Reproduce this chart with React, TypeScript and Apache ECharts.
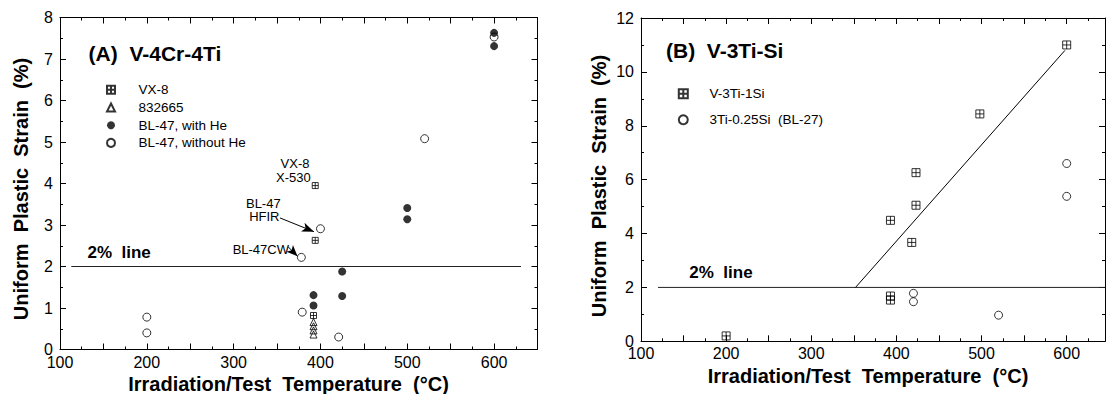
import React, { useEffect, useRef } from "react";
import * as echarts from "echarts";

// ---------- data ----------
// Panel A: V-4Cr-4Ti
const vx8 = [[394, 3.95], [394, 2.63], [392, 0.82]];
const alloy832665 = [[392, 0.66], [392, 0.56], [392, 0.46], [392, 0.36]];
const bl47WithHe = [[392, 1.31], [392, 1.06], [425, 1.88], [425, 1.29], [500, 3.41], [500, 3.14], [600, 7.63], [600, 7.31]];
const bl47WithoutHe = [[200, 0.78], [200, 0.4], [378, 2.22], [400, 2.91], [379, 0.9], [421, 0.3], [520, 5.08], [600, 7.53]];
const twoPctLineA = [[113, 2], [631, 2]];
const arrowHFIR = [[353.4, 3.17], [392.5, 2.84]];
const arrowCW = [[363, 2.47], [373.5, 2.25]];

// Panel B: V-3Ti-Si
const v3ti1si = [[200, 0.2], [393, 1.68], [393, 1.53], [393, 4.49], [418, 3.67], [423, 5.05], [423, 6.26], [498, 8.44], [600, 11]];
const bl27 = [[420, 1.78], [420, 1.47], [520, 0.97], [600, 6.6], [600, 5.38]];
const twoPctLineB = [[120, 2], [645, 2]];
const trendLineB = [[352, 2], [598, 10.8]];

// axes
const xRangeA = [100, 650];
const xRangeB = [100, 645];
const yRangeA = [0, 8];
const yRangeB = [0, 12];
const xLabelStep = 100;

const legendA = ["VX-8", "832665", "BL-47, with He", "BL-47, without He"];
const legendB = ["V-3Ti-1Si", "3Ti-0.25Si  (BL-27)"];

const FONT = "Liberation Sans, Arial, Helvetica, sans-serif";
const BOXPLUS = "path://M0,0L10,0L10,10L0,10Z M5,0L5,10 M0,5L10,5";

function xAxisDef(grid: number, range: number[], pos: "bottom" | "top", labels: boolean, margin: number) {
  return {
    gridIndex: grid,
    type: "value",
    min: range[0],
    max: range[1],
    interval: 50,
    position: pos,
    axisLine: { show: true, onZero: false, lineStyle: { color: "#000", width: 1 } },
    axisTick: { show: true, inside: true, length: 6, lineStyle: { color: "#000", width: 1 } },
    minorTick: { show: true, splitNumber: 2, length: 3, lineStyle: { color: "#000", width: 1 } },
    splitLine: { show: false },
    minorSplitLine: { show: false },
    axisLabel: {
      show: labels,
      margin,
      fontSize: 16,
      fontFamily: FONT,
      color: "#000",
      formatter: (v: number) => (v % xLabelStep === 0 ? String(v) : ""),
    },
  };
}

function yAxisDef(grid: number, range: number[], interval: number, pos: "left" | "right", labels: boolean) {
  return {
    gridIndex: grid,
    type: "value",
    min: range[0],
    max: range[1],
    interval,
    position: pos,
    axisLine: { show: true, onZero: false, lineStyle: { color: "#000", width: 1 } },
    axisTick: { show: true, inside: true, length: 6, lineStyle: { color: "#000", width: 1 } },
    minorTick: { show: true, splitNumber: 2, length: 3, lineStyle: { color: "#000", width: 1 } },
    splitLine: { show: false },
    minorSplitLine: { show: false },
    axisLabel: { show: labels, margin: 7, fontSize: 16, fontFamily: FONT, color: "#000" },
  };
}

const openStyle = { color: "transparent", borderColor: "#000", borderWidth: 1 };

export default function App() {
  const ref = useRef<HTMLDivElement>(null);
  useEffect(() => {
    if (!ref.current) return;
    const chart = echarts.init(ref.current, null, { renderer: "svg" });
    const txt = (text: string, x: number, y: number, size: number, bold: boolean, align = "left", rot = 0) => ({
      type: "text",
      x,
      y,
      rotation: rot,
      style: {
        text,
        fill: "#000",
        font: `${bold ? "bold " : ""}${size}px ${FONT}`,
        align,
        verticalAlign: "middle",
      },
    });
    const option: any = {
      animation: false,
      backgroundColor: "#fff",
      grid: [
        { left: 60, top: 17.5, width: 477.5, height: 332 },
        { left: 641, top: 18, width: 470, height: 323.3 },
      ],
      xAxis: [
        xAxisDef(0, xRangeA, "bottom", true, 5),
        xAxisDef(0, xRangeA, "top", false, 5),
        xAxisDef(1, xRangeB, "bottom", true, 4),
        xAxisDef(1, xRangeB, "top", false, 4),
      ],
      yAxis: [
        yAxisDef(0, yRangeA, 1, "left", true),
        yAxisDef(0, yRangeA, 1, "right", false),
        yAxisDef(1, yRangeB, 2, "left", true),
        yAxisDef(1, yRangeB, 2, "right", false),
      ],
      legend: [
        {
          data: legendA,
          orient: "vertical",
          left: 106,
          top: 82.8,
          padding: 0,
          itemWidth: 8,
          itemHeight: 8,
          itemGap: 3.7,
          selectedMode: false,
          textStyle: { fontSize: 13.5, fontFamily: FONT, color: "#000", lineHeight: 13, padding: [0, 0, 0, 18.5] },
        },
        {
          data: legendB,
          orient: "vertical",
          left: 677.8,
          top: 86.8,
          padding: 0,
          itemWidth: 9,
          itemHeight: 9,
          itemGap: 12,
          selectedMode: false,
          textStyle: { fontSize: 13.5, fontFamily: FONT, color: "#000", lineHeight: 13, padding: [0, 0, 0, 16.7] },
        },
      ],
      series: [
        {
          name: "2% line A",
          type: "line",
          xAxisIndex: 0,
          yAxisIndex: 0,
          data: twoPctLineA,
          symbol: "none",
          lineStyle: { color: "#222", width: 1 },
          z: 1,
          markLine: {
            silent: true,
            symbol: ["none", "arrow"],
            label: { show: false },
            lineStyle: { color: "#000", width: 1, type: "solid" },
            data: [
              [{ coord: arrowHFIR[0] }, { coord: arrowHFIR[1], symbolSize: [7, 12] }],
              [{ coord: arrowCW[0] }, { coord: arrowCW[1], symbolSize: [7, 11] }],
            ],
          },
        },
        {
          name: "BL-47, without He",
          type: "scatter",
          xAxisIndex: 0,
          yAxisIndex: 0,
          data: bl47WithoutHe,
          symbol: "circle",
          symbolSize: 8,
          itemStyle: openStyle,
          z: 2,
        },
        {
          name: "VX-8",
          type: "scatter",
          xAxisIndex: 0,
          yAxisIndex: 0,
          data: vx8,
          symbol: BOXPLUS,
          symbolSize: 6,
          itemStyle: openStyle,
          z: 3,
        },
        {
          name: "832665",
          type: "scatter",
          xAxisIndex: 0,
          yAxisIndex: 0,
          data: alloy832665,
          symbol: "triangle",
          symbolSize: 7,
          itemStyle: openStyle,
          z: 3,
        },
        {
          name: "BL-47, with He",
          type: "scatter",
          xAxisIndex: 0,
          yAxisIndex: 0,
          data: bl47WithHe,
          symbol: "circle",
          symbolSize: 8,
          itemStyle: { color: "#000" },
          z: 4,
        },
        {
          name: "2% line B",
          type: "line",
          xAxisIndex: 2,
          yAxisIndex: 2,
          data: twoPctLineB,
          symbol: "none",
          lineStyle: { color: "#222", width: 1 },
          z: 1,
        },
        {
          name: "trend B",
          type: "line",
          xAxisIndex: 2,
          yAxisIndex: 2,
          data: trendLineB,
          symbol: "none",
          lineStyle: { color: "#000", width: 1 },
          z: 1,
        },
        {
          name: "V-3Ti-1Si",
          type: "scatter",
          xAxisIndex: 2,
          yAxisIndex: 2,
          data: v3ti1si,
          symbol: BOXPLUS,
          symbolSize: 8,
          itemStyle: openStyle,
          z: 3,
        },
        {
          name: "3Ti-0.25Si  (BL-27)",
          type: "scatter",
          xAxisIndex: 2,
          yAxisIndex: 2,
          data: bl27,
          symbol: "circle",
          symbolSize: 8,
          itemStyle: openStyle,
          z: 3,
        },
      ],
      graphic: [
        txt("(A)  V-4Cr-4Ti", 88.6, 53, 21, true),
        txt("(B)  V-3Ti-Si", 666, 50, 21, true),
        txt("2%  line", 87.5, 252.7, 17, true),
        txt("2%  line", 689.3, 272.3, 17, true),
        txt("Irradiation/Test  Temperature  (°C)", 288.5, 384, 20, true, "center"),
        txt("Irradiation/Test  Temperature  (°C)", 868, 376, 20, true, "center"),
        txt("Uniform  Plastic  Strain  (%)", 20.5, 189, 20, true, "center", Math.PI / 2),
        txt("Uniform  Plastic  Strain  (%)", 599, 186, 20, true, "center", Math.PI / 2),
        txt("VX-8", 295, 163.5, 13, false, "center"),
        txt("X-530", 293.3, 177, 13, false, "center"),
        txt("BL-47", 263.3, 203, 13, false, "center"),
        txt("HFIR", 264.3, 216.5, 13, false, "center"),
        txt("BL-47CW", 289, 249.3, 13, false, "right"),
      ],
    };
    chart.setOption(option);
    return () => chart.dispose();
  }, []);
  return (
    <div
      ref={ref}
      style={{ position: "absolute", left: 0, top: 0, width: 1108, height: 394, background: "#fff", overflow: "hidden" }}
    />
  );
}
